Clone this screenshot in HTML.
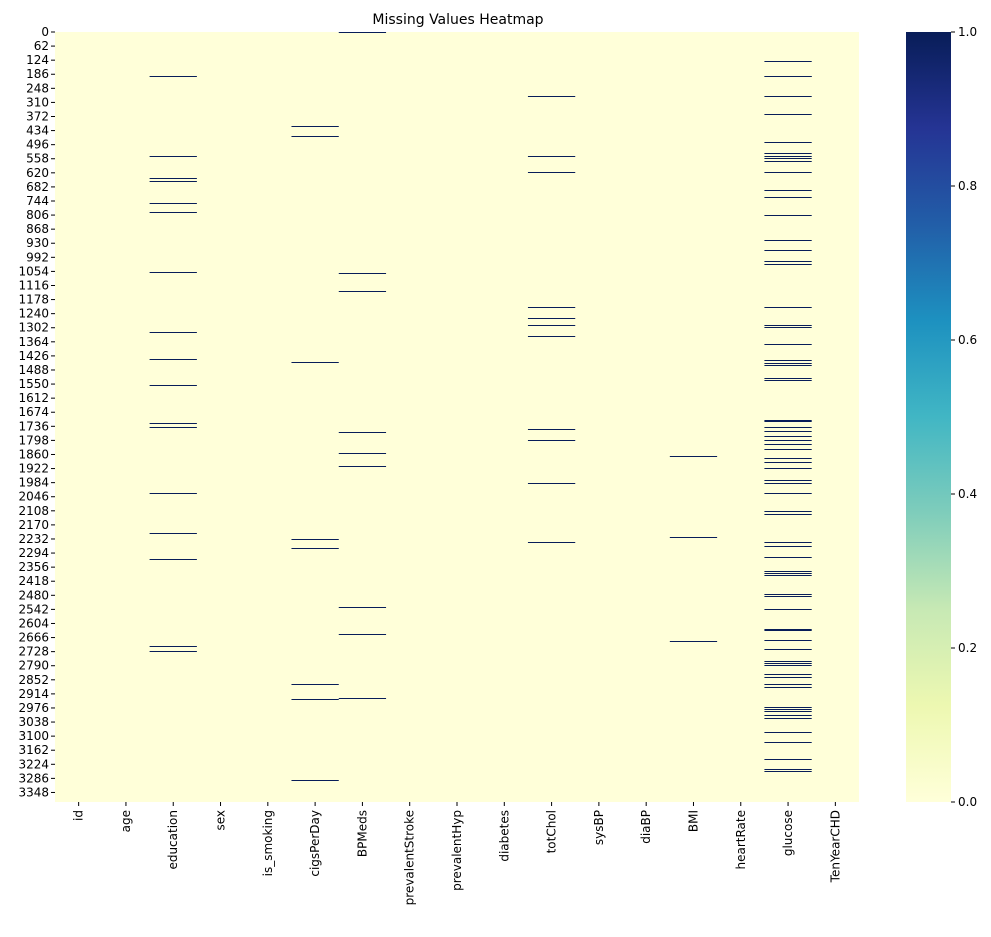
<!DOCTYPE html>
<html><head><meta charset="utf-8"><style>
body{margin:0;background:#fff;font-family:"Liberation Sans","DejaVu Sans",sans-serif;}
</style></head><body>
<svg id="chart" width="991" height="932" xmlns="http://www.w3.org/2000/svg" font-family="DejaVu Sans, Liberation Sans, sans-serif">
<defs>
<linearGradient id="ylgnbu" x1="0" y1="1" x2="0" y2="0">
<stop offset="0" stop-color="#ffffd9"/><stop offset="0.125" stop-color="#edf8b1"/>
<stop offset="0.25" stop-color="#c7e9b4"/><stop offset="0.375" stop-color="#7fcdbb"/>
<stop offset="0.5" stop-color="#41b6c4"/><stop offset="0.625" stop-color="#1d91c0"/>
<stop offset="0.75" stop-color="#225ea8"/><stop offset="0.875" stop-color="#253494"/>
<stop offset="1" stop-color="#081d58"/></linearGradient>
</defs>
<text x="458" y="24" text-anchor="middle" font-size="14">Missing Values Heatmap</text>
<rect x="55" y="32" width="804" height="770" fill="#ffffd9"/>
<g id="cells"></g><g id="xticks"></g><g id="yticks"></g>
<rect x="906" y="32" width="45" height="770" fill="url(#ylgnbu)"/>
<g id="cbticks"></g>
</svg>
<script>
const columns=["id","age","education","sex","is_smoking","cigsPerDay","BPMeds","prevalentStroke","prevalentHyp","diabetes","totChol","sysBP","diaBP","BMI","heartRate","glucose","TenYearCHD"];
const totalRows=3390;
const missingEducation=[194,546,647,656,757,796,1060,1324,1443,1558,1725,1742,2033,2209,2323,2706,2728];
const missingCigs=[418,462,1456,2235,2275,2873,2939,3296];
const missingBPMeds=[4,1065,1144,1764,1857,1914,2534,2653,2935];
const missingTotChol=[286,550,620,1214,1263,1294,1342,1751,1800,1989,2248];
const missingBMI=[1870,2226,2684];
const missingGlucose=[132,194,198,286,365,488,537,550,559,568,620,700,730,810,920,964,1012,1025,1214,1294,1302,1377,1448,1461,1470,1527,1536,1712,1716,1742,1760,1782,1800,1817,1839,1879,1896,1923,1976,1989,2033,2112,2125,2248,2266,2314,2376,2385,2394,2477,2486,2543,2631,2636,2680,2719,2772,2781,2790,2829,2842,2873,2886,2974,2983,2992,3010,3023,3084,3128,3203,3247,3256];
const cbTicks=[0,0.2,0.4,0.6,0.8,1.0];
const NS="http://www.w3.org/2000/svg";
const X0=55,W=804,Y0=32,H=770;
const cw=W/columns.length, rh=H/totalRows;
const xOf=i=>X0+i*cw, yOf=r=>Y0+r*rh;
const missingByCol={education:missingEducation,cigsPerDay:missingCigs,BPMeds:missingBPMeds,totChol:missingTotChol,BMI:missingBMI,glucose:missingGlucose};
const cells=document.getElementById('cells');
columns.forEach((c,i)=>{
 (missingByCol[c]||[]).forEach(r=>{
  const e=document.createElementNS(NS,'rect');
  
  
  e.setAttribute('x',xOf(i));e.setAttribute('y',Math.floor(yOf(r)));
  e.setAttribute('width',cw);e.setAttribute('height',1);
  e.setAttribute('fill','#081d58');
  cells.appendChild(e);
 });
 const tk=document.createElementNS(NS,'line');
 
 
 const cx=xOf(i)+cw/2;
 tk.setAttribute('x1',cx);tk.setAttribute('x2',cx);tk.setAttribute('y1',802);tk.setAttribute('y2',806);tk.setAttribute('stroke','#000');
 document.getElementById('xticks').appendChild(tk);
 const t=document.createElementNS(NS,'text');
 
 
 t.setAttribute('transform',`translate(${cx+4},810) rotate(-90)`);
 t.setAttribute('text-anchor','end');t.setAttribute('font-size','12');
 t.textContent=c;
 document.getElementById('xticks').appendChild(t);
});
for(let r=0;r<totalRows;r+=62){
 const y=yOf(r);
 const tk=document.createElementNS(NS,'line');
 
 
 tk.setAttribute('x1',51);tk.setAttribute('x2',55);tk.setAttribute('y1',y);tk.setAttribute('y2',y);tk.setAttribute('stroke','#000');
 document.getElementById('yticks').appendChild(tk);
 const t=document.createElementNS(NS,'text');
 
 
 t.setAttribute('x',49);t.setAttribute('y',y+4);t.setAttribute('text-anchor','end');t.setAttribute('font-size','12');
 t.textContent=r;
 document.getElementById('yticks').appendChild(t);
}
cbTicks.forEach(v=>{
 const y=802-v*H;
 const tk=document.createElementNS(NS,'line');
 
 
 tk.setAttribute('x1',951);tk.setAttribute('x2',955);tk.setAttribute('y1',y);tk.setAttribute('y2',y);tk.setAttribute('stroke','#000');
 document.getElementById('cbticks').appendChild(tk);
 const t=document.createElementNS(NS,'text');
 
 
 t.setAttribute('x',958);t.setAttribute('y',y+4);t.setAttribute('font-size','12');
 t.textContent=v.toFixed(1);
 document.getElementById('cbticks').appendChild(t);
});
</script>
</body></html>
